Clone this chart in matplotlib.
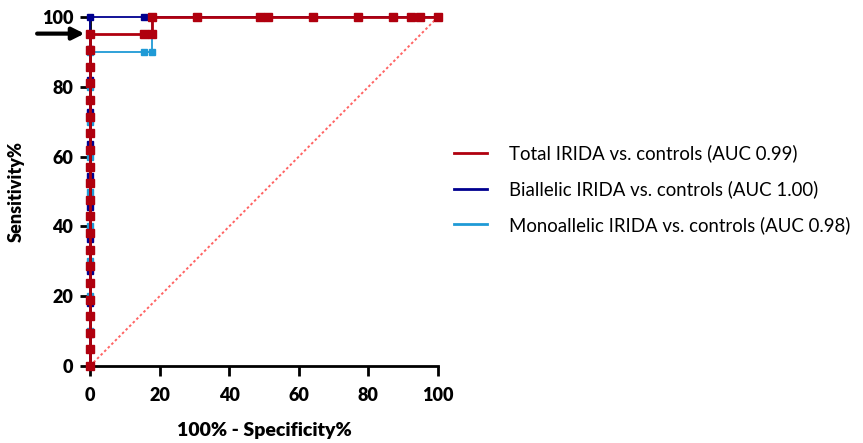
import matplotlib
matplotlib.use("Agg")
import matplotlib.pyplot as plt

plt.rcParams["font.family"] = ["Lato", "DejaVu Sans"]

# ROC coordinates: 1 - specificity (%) and sensitivity (%)
total_fpr = [0] * 21 + [15.38, 17.95, 17.95, 30.77, 48.72, 51.28, 64.10,
                        76.92, 87.18, 92.31, 94.87, 100]
total_sens = [0, 4.76, 9.52, 14.29, 19.05, 23.81, 28.57, 33.33, 38.10, 42.86,
              47.62, 52.38, 57.14, 61.90, 66.67, 71.43, 76.19, 80.95, 85.71,
              90.48, 95.24, 95.24, 95.24, 100, 100, 100, 100, 100, 100, 100,
              100, 100, 100]

biallelic_fpr = [0] * 12 + [15.38, 17.95, 30.77, 48.72, 51.28, 64.10, 76.92,
                            87.18, 92.31, 94.87, 100]
biallelic_sens = [0, 9.09, 18.18, 27.27, 36.36, 45.45, 54.55, 63.64, 72.73,
                  81.82, 90.91, 100, 100, 100, 100, 100, 100, 100, 100, 100,
                  100, 100, 100]

mono_fpr = [0] * 10 + [15.38, 17.95, 17.95, 30.77, 48.72, 51.28, 64.10, 76.92,
                       87.18, 92.31, 94.87, 100]
mono_sens = [0, 10, 20, 30, 40, 50, 60, 70, 80, 90, 90, 90, 100, 100, 100,
             100, 100, 100, 100, 100, 100, 100]

labels = ["Total IRIDA vs. controls (AUC 0.99)",
          "Biallelic IRIDA vs. controls (AUC 1.00)",
          "Monoallelic IRIDA vs. controls (AUC 0.98)"]
ticks = [0, 20, 40, 60, 80, 100]

RED = "#b0000e"
NAVY = "#00008f"
SKY = "#1f9ad6"

fig = plt.figure(figsize=(8.63, 4.43), dpi=100)
ax = fig.add_axes([0.1043, 0.1738, 0.4032, 0.7878])

# chance line
ax.plot([0, 100], [0, 100], color="#ff6464", lw=1.4, ls=(0, (1.3, 1.3)),
        zorder=1)

mono_line, = ax.plot(mono_fpr, mono_sens, color=SKY, lw=1.3, marker="s",
                     ms=4.2, clip_on=False, zorder=2)
bi_line, = ax.plot(biallelic_fpr, biallelic_sens, color=NAVY, lw=1.3,
                   marker="s", ms=4.2, clip_on=False, zorder=3)
tot_line, = ax.plot(total_fpr, total_sens, color=RED, lw=2.0, marker="s",
                    ms=5.2, clip_on=False, zorder=4)

ax.set_xlim(0, 100)
ax.set_ylim(0, 100)
ax.set_xticks(ticks)
ax.set_yticks(ticks)
for side in ("top", "right"):
    ax.spines[side].set_visible(False)
for side in ("left", "bottom"):
    ax.spines[side].set_linewidth(2.0)
ax.tick_params(axis="both", direction="out", length=7, width=2.0,
               labelsize=13)
ax.tick_params(axis="x", pad=8)
ax.tick_params(axis="y", pad=5)
for lab in ax.get_xticklabels() + ax.get_yticklabels():
    lab.set_fontweight("heavy")

ax.set_xlabel("100% - Specificity%", fontsize=14, fontweight="heavy",
              labelpad=13)
ax.set_ylabel("Sensitivity%", fontsize=13, fontweight="heavy", labelpad=12)

# arrow marking the total IRIDA cut-off
ax.annotate("", xy=(-0.8, total_sens[20]), xytext=(-16, total_sens[20]),
            arrowprops=dict(arrowstyle="-|>", lw=3, color="black",
                            mutation_scale=18),
            annotation_clip=False)

handles = [plt.Line2D([], [], color=c, lw=2) for c in (RED, NAVY, SKY)]
fig.legend(handles, labels, loc="center left",
           bbox_to_anchor=(0.526, 0.573), frameon=False, fontsize=13.4,
           handlelength=1.8, handletextpad=1.15, labelspacing=0.95,
           borderpad=0, borderaxespad=0)

fig.savefig("out.png", dpi=100)
